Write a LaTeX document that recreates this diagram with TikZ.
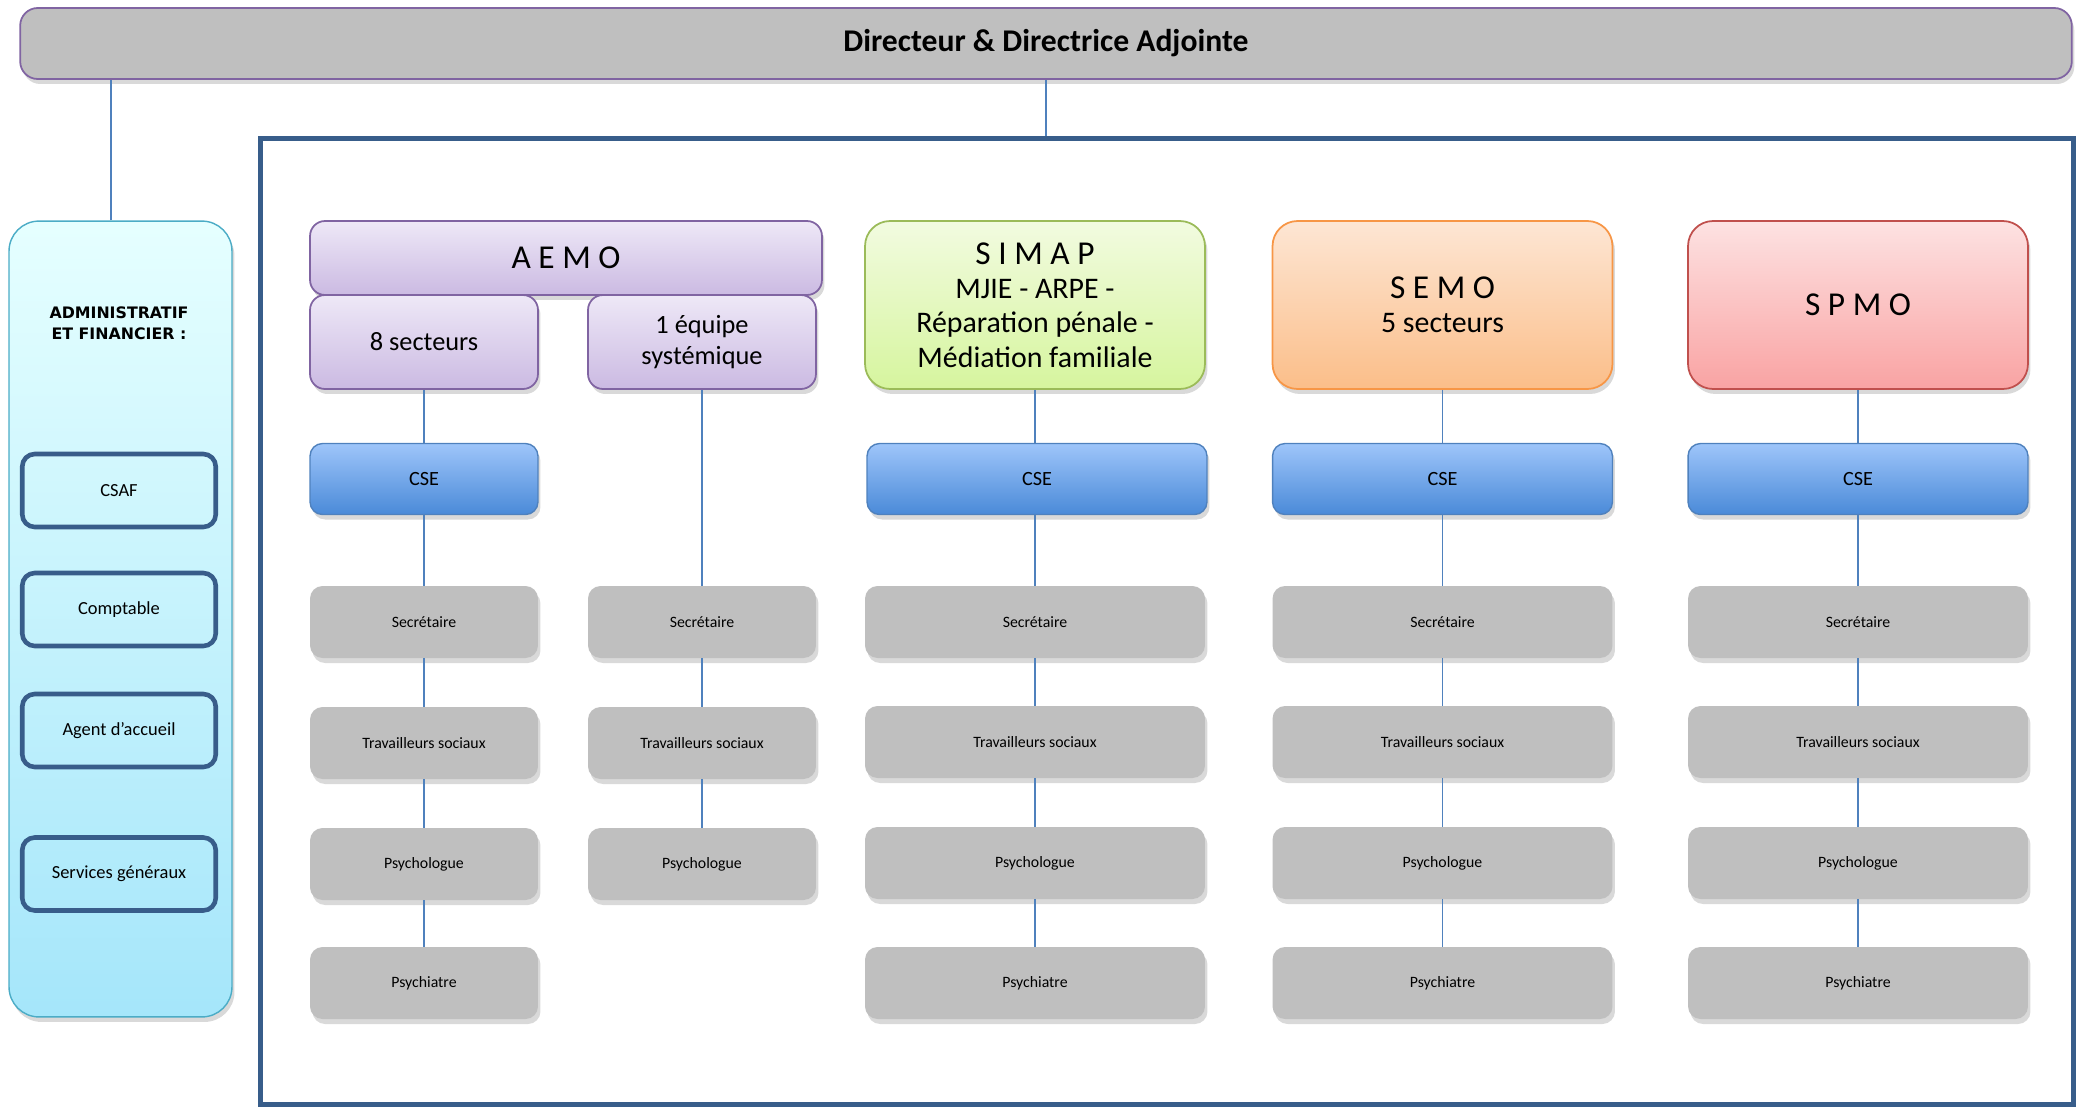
\documentclass[tikz,border=0pt]{standalone}
\usepackage{fontspec}
\setmainfont{Carlito}
\newfontfamily\headfont{DejaVu Sans}
\usepackage{tikz}
\usetikzlibrary{shadows,positioning}
\usepackage{xcolor}
\definecolor{linkblue}{RGB}{79,129,189}
\definecolor{framedark}{RGB}{56,93,138}
\definecolor{barfill}{RGB}{191,191,191}
\definecolor{purpleedge}{RGB}{128,100,162}
\definecolor{greenedge}{RGB}{155,187,89}
\definecolor{orangeedge}{RGB}{247,150,70}
\definecolor{rededge}{RGB}{192,80,77}
\definecolor{cyanedge}{RGB}{75,172,198}
\tikzstyle{shade} = [drop shadow={opacity=0.3, shadow xshift=0.05cm, shadow yshift=-0.1cm}]
\tikzstyle{topbox} = [draw=purpleedge, fill=barfill, line width=1pt, rounded corners=0.35cm,
    minimum width=41.04cm, minimum height=1.42cm, shade, font=\fontsize{18}{22}\selectfont\bfseries]
\tikzstyle{frame} = [draw=framedark, line width=0.1cm, minimum width=36.28cm, minimum height=19.34cm]
\tikzstyle{adminbox} = [draw=cyanedge, line width=0.8pt, rounded corners=0.6cm, top color=cyan!10,
    bottom color={rgb,255:red,165;green,230;blue,250}, minimum width=4.46cm, minimum height=15.92cm, shade]
\tikzstyle{adminitem} = [draw=framedark, line width=2.6pt, rounded corners=0.25cm,
    minimum width=3.87cm, minimum height=1.46cm, font=\fontsize{10.5}{12}\selectfont]
\tikzstyle{unitbox} = [line width=1pt, rounded corners=0.5cm, minimum width=6.8cm, minimum height=3.36cm,
    align=center, shade, font=\fontsize{17}{19.5}\selectfont]
\tikzstyle{aemobox} = [unitbox, draw=purpleedge, top color={rgb,255:red,238;green,232;blue,247},
    bottom color={rgb,255:red,203;green,186;blue,226}, rounded corners=0.3cm]
\tikzstyle{csebox} = [draw=linkblue, line width=0.8pt, rounded corners=0.25cm, minimum height=1.42cm,
    top color={rgb,255:red,158;green,197;blue,250}, bottom color={rgb,255:red,74;green,138;blue,216},
    shade, font=\fontsize{11.5}{14}\selectfont]
\tikzstyle{staffbox} = [fill=barfill, rounded corners=0.25cm, minimum height=1.44cm, shade,
    font=\fontsize{9}{11}\selectfont]
\tikzstyle{link} = [draw=linkblue, line width=1.1pt]

\begin{document}
\begin{tikzpicture}[x=0.02cm, y=-0.02cm]
\useasboundingbox (0,0) rectangle (2076,1106);

% tête et cadre des services
\node[frame] (frame) at (1167,621.5) {};
\node[topbox] (top) at (1046,43.5) {Directeur \& Directrice Adjointe};

% pôle administratif
\node[adminbox] (admin) at (120.5,619) {};
\node[font=\headfont\fontsize{9}{12}\selectfont\bfseries, align=center] (admtitle) at (119,323)
    {ADMINISTRATIF\\ET FINANCIER :};
\node[adminitem] (csaf) at (119,490.5) {CSAF};
\node[adminitem] (compta) at (119,609.5) {Comptable};
\node[adminitem] (accueil) at (119,730.5) {Agent d’accueil};
\node[adminitem] (servgen) at (119,874) {Services généraux};

% AEMO
\node[aemobox, minimum width=10.24cm, minimum height=1.48cm, font=\fontsize{19}{22}\selectfont]
    (aemo) at (566,258) {A E M O};
\node[aemobox, minimum width=4.56cm, minimum height=1.88cm, font=\fontsize{15}{18}\selectfont]
    (sect) at (424,342) {8 secteurs};
\node[aemobox, minimum width=4.56cm, minimum height=1.88cm, font=\fontsize{15}{18}\selectfont]
    (syst) at (702,342) {1 équipe\\systémique};
\node[csebox, minimum width=4.56cm] (cseA) at (424,479) {CSE};
\node[staffbox, minimum width=4.56cm] (secA) at (424,622) {Secrétaire};
\node[staffbox, minimum width=4.56cm] (travA) at (424,743) {Travailleurs sociaux};
\node[staffbox, minimum width=4.56cm] (psyA) at (424,864) {Psychologue};
\node[staffbox, minimum width=4.56cm] (psycA) at (424,983) {Psychiatre};
\node[staffbox, minimum width=4.56cm] (secS) at (702,622) {Secrétaire};
\node[staffbox, minimum width=4.56cm] (travS) at (702,743) {Travailleurs sociaux};
\node[staffbox, minimum width=4.56cm] (psyS) at (702,864) {Psychologue};

% SIMAP
\node[unitbox, draw=greenedge, top color={rgb,255:red,242;green,251;blue,224},
    bottom color={rgb,255:red,214;green,245;blue,158}] (simap) at (1035,305)
    {{\fontsize{19}{22}\selectfont S I M A P}\\MJIE - ARPE -\\Réparation pénale -\\Médiation familiale};
\node[csebox, minimum width=6.8cm] (cseB) at (1037,479) {CSE};
\node[staffbox, minimum width=6.8cm] (secB) at (1035,622) {Secrétaire};
\node[staffbox, minimum width=6.8cm] (travB) at (1035,742) {Travailleurs sociaux};
\node[staffbox, minimum width=6.8cm] (psyB) at (1035,863) {Psychologue};
\node[staffbox, minimum width=6.8cm] (psycB) at (1035,983) {Psychiatre};

% SEMO
\node[unitbox, draw=orangeedge, top color={rgb,255:red,253;green,230;blue,212},
    bottom color={rgb,255:red,251;green,190;blue,137}] (semo) at (1442.5,305)
    {{\fontsize{19}{22}\selectfont S E M O}\\5 secteurs};
\node[csebox, minimum width=6.8cm] (cseC) at (1442.5,479) {CSE};
\node[staffbox, minimum width=6.8cm] (secC) at (1442.5,622) {Secrétaire};
\node[staffbox, minimum width=6.8cm] (travC) at (1442.5,742) {Travailleurs sociaux};
\node[staffbox, minimum width=6.8cm] (psyC) at (1442.5,863) {Psychologue};
\node[staffbox, minimum width=6.8cm] (psycC) at (1442.5,983) {Psychiatre};

% SPMO
\node[unitbox, draw=rededge, top color={rgb,255:red,253;green,226;blue,226},
    bottom color={rgb,255:red,249;green,163;blue,163}] (spmo) at (1858,305)
    {\fontsize{19}{22}\selectfont S P M O};
\node[csebox, minimum width=6.8cm] (cseD) at (1858,479) {CSE};
\node[staffbox, minimum width=6.8cm] (secD) at (1858,622) {Secrétaire};
\node[staffbox, minimum width=6.8cm] (travD) at (1858,742) {Travailleurs sociaux};
\node[staffbox, minimum width=6.8cm] (psyD) at (1858,863) {Psychologue};
\node[staffbox, minimum width=6.8cm] (psycD) at (1858,983) {Psychiatre};

% liaisons
\draw[link] ([xshift=-0.19cm]admin.north) -- ([xshift=-0.19cm]admin.north |- top.south);
\draw[link] (top.south) -- (top.south |- frame.north);
\draw[link] (sect) -- (cseA) -- (secA) -- (travA) -- (psyA) -- (psycA);
\draw[link] (syst) -- (secS) -- (travS) -- (psyS);
\draw[link] (simap) -- (simap.south |- cseB.north);
\draw[link] (simap.south |- cseB.south) -- (secB) -- (travB) -- (psyB) -- (psycB);
\draw[link] (semo) -- (cseC) -- (secC) -- (travC) -- (psyC) -- (psycC);
\draw[link] (spmo) -- (cseD) -- (secD) -- (travD) -- (psyD) -- (psycD);
\end{tikzpicture}
\end{document}
